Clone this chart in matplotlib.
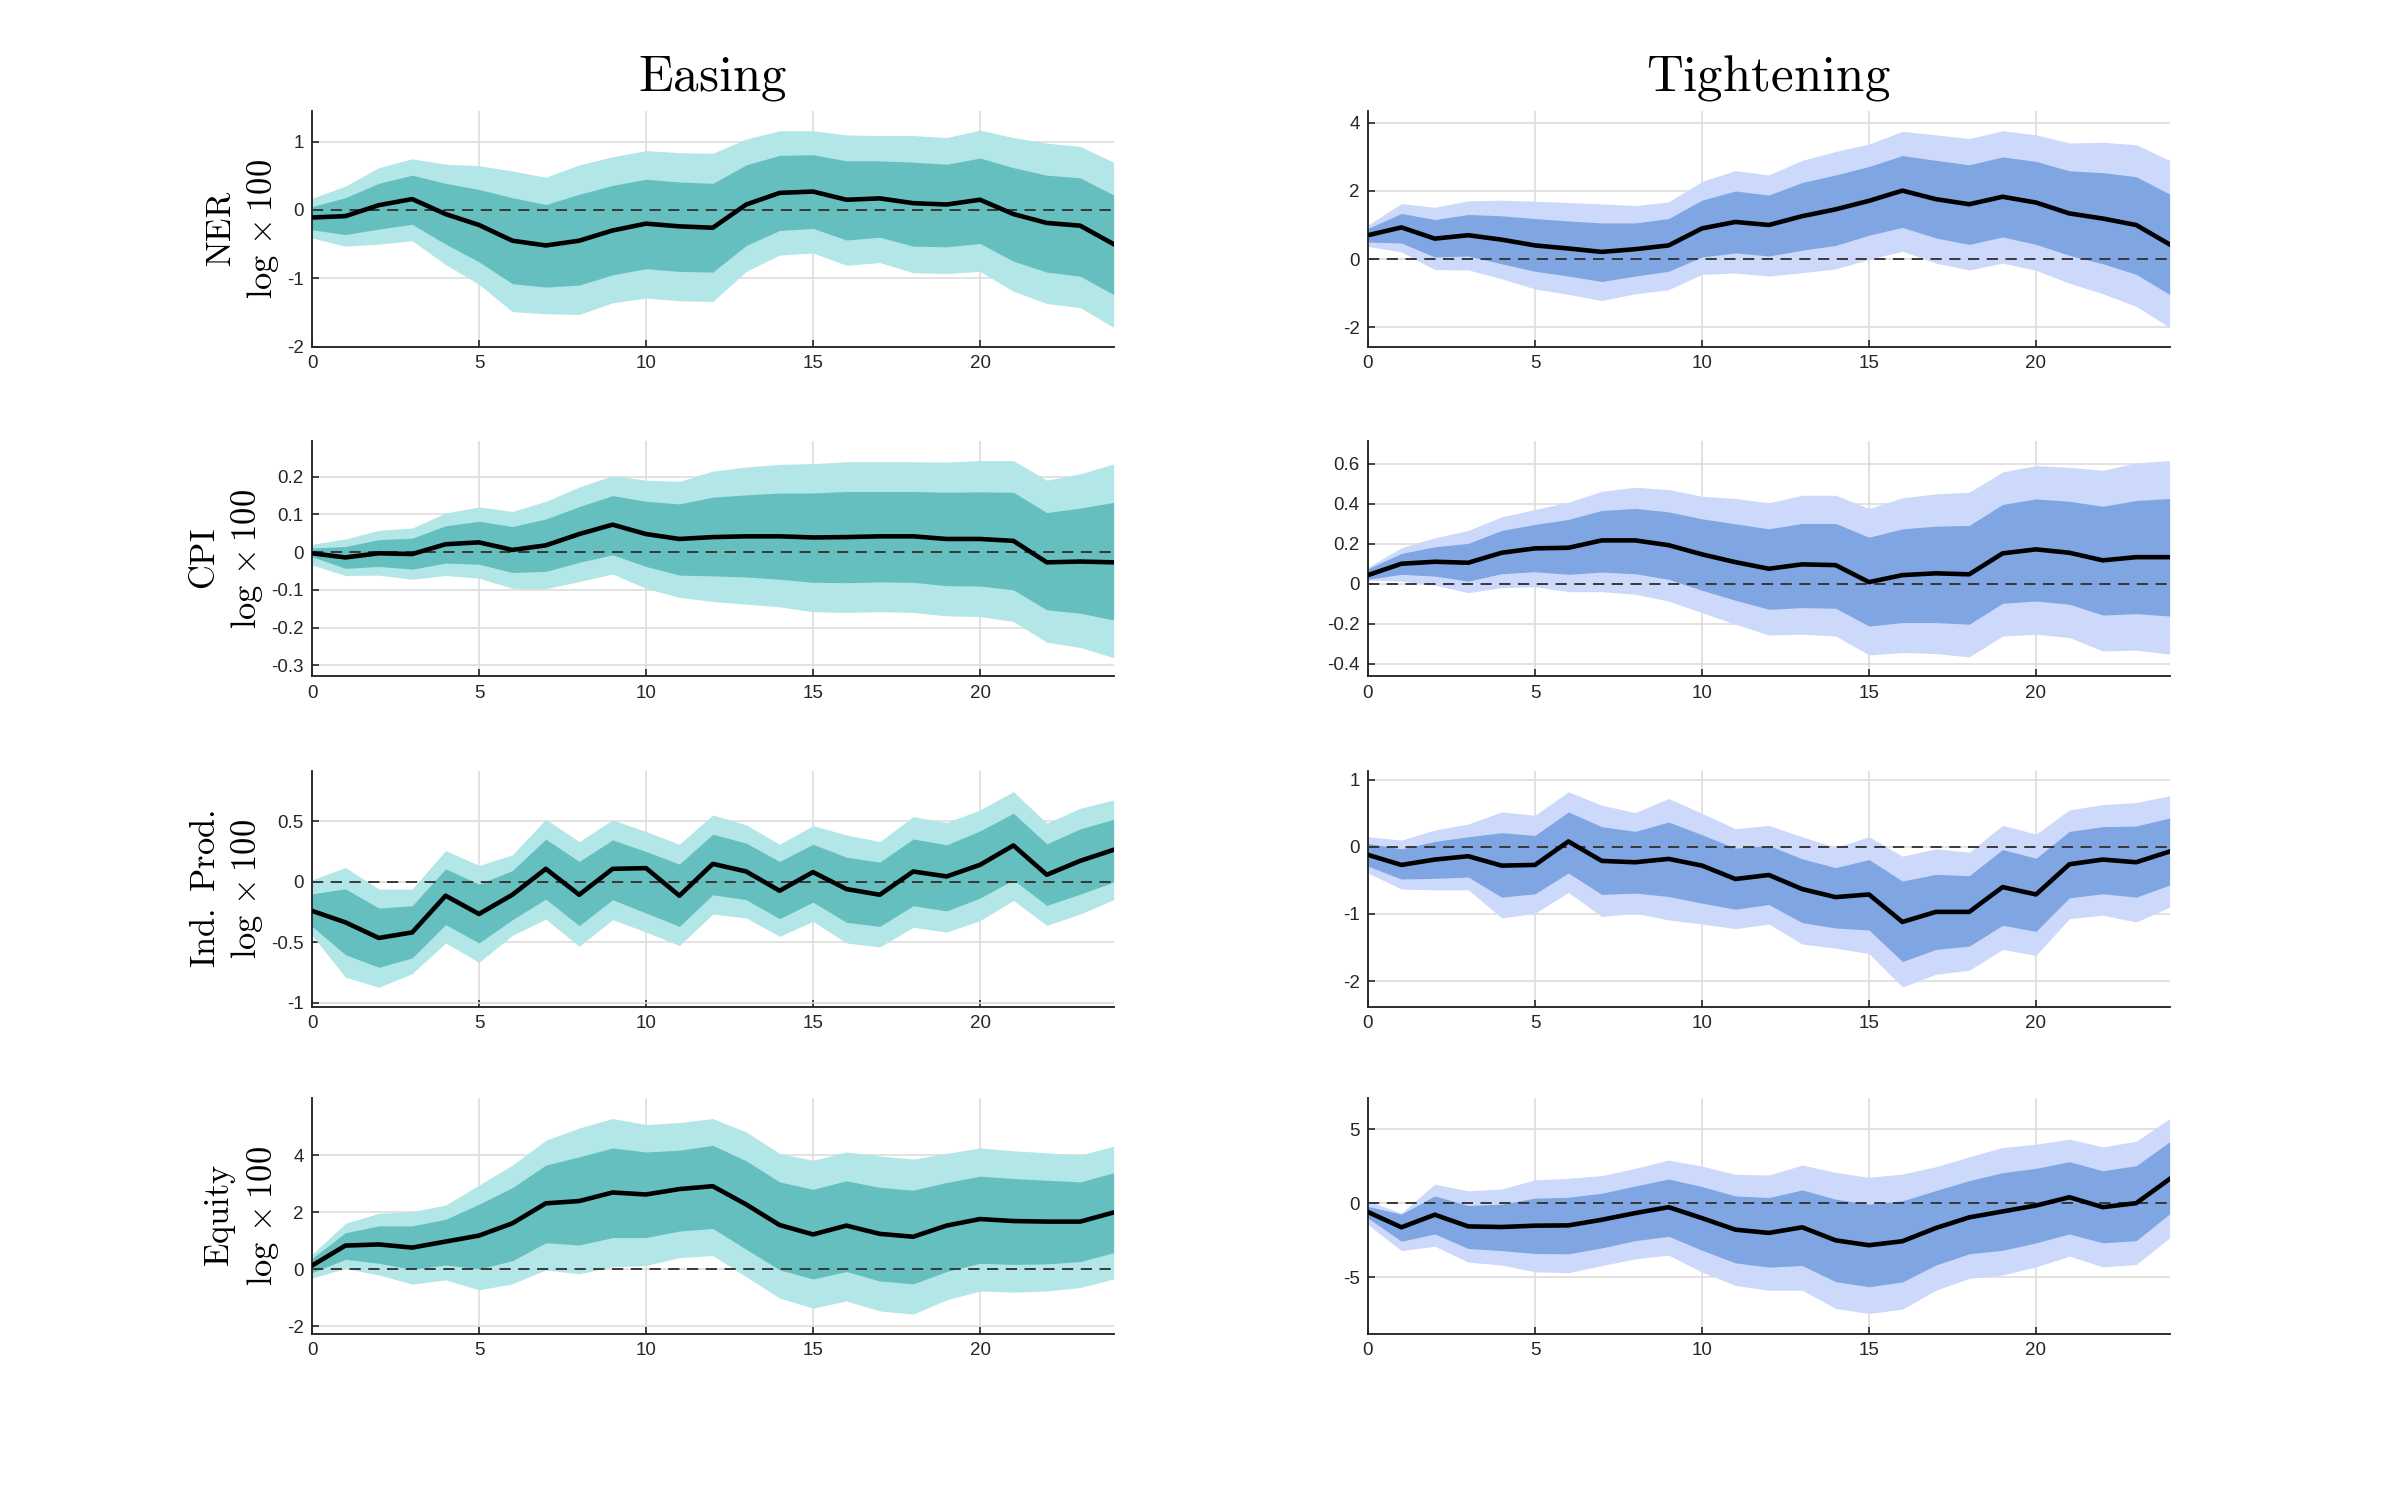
import numpy as np
import matplotlib
matplotlib.use('Agg')
import matplotlib.pyplot as plt

plt.rcParams['mathtext.fontset'] = 'cm'
plt.rcParams['font.family'] = ['Liberation Sans', 'DejaVu Sans']

horizon = np.arange(25)

# ---- Easing (teal) ----
ner_e_mid = [-0.11, -0.09, 0.07, 0.16, -0.06, -0.22, -0.45, -0.52, -0.45, -0.30, -0.20, -0.24, -0.26,
             0.08, 0.25, 0.27, 0.15, 0.17, 0.10, 0.08, 0.15, -0.06, -0.19, -0.23, -0.50]
ner_e_in_hi = [0.05, 0.18, 0.39, 0.51, 0.39, 0.30, 0.18, 0.08, 0.23, 0.36, 0.45, 0.41, 0.39,
               0.66, 0.80, 0.81, 0.72, 0.72, 0.70, 0.67, 0.76, 0.62, 0.51, 0.47, 0.22]
ner_e_in_lo = [-0.29, -0.36, -0.28, -0.21, -0.50, -0.76, -1.08, -1.13, -1.10, -0.95, -0.86, -0.90, -0.91,
               -0.52, -0.30, -0.27, -0.44, -0.40, -0.53, -0.54, -0.49, -0.75, -0.91, -0.97, -1.24]
ner_e_out_hi = [0.17, 0.35, 0.62, 0.75, 0.67, 0.65, 0.57, 0.48, 0.66, 0.78, 0.87, 0.84, 0.83,
                1.04, 1.16, 1.16, 1.10, 1.09, 1.09, 1.06, 1.17, 1.06, 0.98, 0.93, 0.70]
ner_e_out_lo = [-0.41, -0.53, -0.50, -0.45, -0.80, -1.09, -1.49, -1.52, -1.53, -1.36, -1.29, -1.33, -1.34,
                -0.90, -0.66, -0.63, -0.81, -0.77, -0.92, -0.93, -0.90, -1.19, -1.37, -1.43, -1.72]

cpi_e_mid = [-0.003, -0.014, -0.003, -0.005, 0.021, 0.026, 0.006, 0.018, 0.048, 0.073, 0.048, 0.035, 0.040,
             0.042, 0.042, 0.039, 0.040, 0.042, 0.042, 0.035, 0.035, 0.030, -0.027, -0.025, -0.027]
cpi_e_in_hi = [0.011, 0.015, 0.033, 0.037, 0.070, 0.082, 0.068, 0.088, 0.121, 0.150, 0.135, 0.128, 0.146,
               0.152, 0.157, 0.157, 0.161, 0.161, 0.161, 0.159, 0.160, 0.159, 0.105, 0.117, 0.132]
cpi_e_in_lo = [-0.012, -0.043, -0.038, -0.045, -0.029, -0.032, -0.054, -0.051, -0.027, -0.007, -0.038, -0.061, -0.063,
               -0.066, -0.072, -0.080, -0.081, -0.079, -0.080, -0.089, -0.090, -0.100, -0.153, -0.162, -0.180]
cpi_e_out_hi = [0.021, 0.035, 0.058, 0.064, 0.104, 0.120, 0.108, 0.135, 0.173, 0.203, 0.191, 0.188, 0.215,
                0.226, 0.233, 0.235, 0.240, 0.240, 0.240, 0.239, 0.243, 0.243, 0.191, 0.208, 0.234]
cpi_e_out_lo = [-0.034, -0.062, -0.061, -0.072, -0.062, -0.069, -0.096, -0.097, -0.078, -0.058, -0.096, -0.120, -0.131,
                -0.138, -0.145, -0.158, -0.160, -0.158, -0.160, -0.169, -0.171, -0.184, -0.239, -0.253, -0.280]

ip_e_mid = [-0.24, -0.335, -0.464, -0.418, -0.115, -0.266, -0.107, 0.107, -0.107, 0.107, 0.113, -0.115, 0.148,
            0.085, -0.074, 0.080, -0.060, -0.107, 0.085, 0.044, 0.140, 0.300, 0.058, 0.173, 0.264]
ip_e_in_hi = [-0.10, -0.058, -0.217, -0.198, 0.107, -0.019, 0.093, 0.352, 0.168, 0.346, 0.250, 0.146, 0.393,
              0.319, 0.168, 0.310, 0.203, 0.162, 0.354, 0.305, 0.420, 0.566, 0.313, 0.437, 0.516]
ip_e_in_lo = [-0.368, -0.602, -0.706, -0.629, -0.354, -0.505, -0.313, -0.143, -0.363, -0.148, -0.258, -0.368, -0.107,
              -0.148, -0.305, -0.168, -0.335, -0.368, -0.198, -0.240, -0.135, 0.016, -0.195, -0.102, -0.003]
ip_e_out_hi = [0.016, 0.118, -0.060, -0.060, 0.258, 0.135, 0.223, 0.516, 0.332, 0.511, 0.415, 0.310, 0.552,
               0.470, 0.310, 0.464, 0.387, 0.332, 0.538, 0.489, 0.593, 0.745, 0.484, 0.607, 0.676]
ip_e_out_lo = [-0.44, -0.788, -0.871, -0.758, -0.505, -0.665, -0.442, -0.308, -0.533, -0.313, -0.415, -0.527, -0.266,
               -0.299, -0.450, -0.327, -0.505, -0.538, -0.376, -0.415, -0.321, -0.154, -0.360, -0.266, -0.148]

eq_e_mid = [0.13, 0.83, 0.87, 0.76, 0.97, 1.18, 1.61, 2.31, 2.39, 2.69, 2.62, 2.81, 2.91,
            2.27, 1.55, 1.22, 1.53, 1.24, 1.14, 1.53, 1.76, 1.69, 1.67, 1.67, 1.99]
eq_e_in_hi = [0.38, 1.28, 1.52, 1.52, 1.75, 2.28, 2.86, 3.65, 3.94, 4.25, 4.11, 4.17, 4.34,
              3.80, 3.06, 2.80, 3.10, 2.87, 2.77, 3.04, 3.26, 3.18, 3.12, 3.06, 3.38]
eq_e_in_lo = [-0.12, 0.35, 0.21, 0.00, 0.15, 0.01, 0.30, 0.93, 0.85, 1.11, 1.11, 1.34, 1.43,
              0.70, -0.02, -0.34, -0.08, -0.41, -0.51, -0.08, 0.21, 0.17, 0.19, 0.27, 0.58]
eq_e_out_hi = [0.52, 1.61, 1.96, 2.02, 2.25, 2.95, 3.65, 4.52, 4.95, 5.28, 5.07, 5.14, 5.28,
               4.81, 4.06, 3.82, 4.11, 3.97, 3.86, 4.06, 4.25, 4.15, 4.08, 4.00, 4.31]
eq_e_out_lo = [-0.31, 0.03, -0.20, -0.52, -0.37, -0.72, -0.51, -0.02, -0.16, 0.09, 0.13, 0.41, 0.48,
               -0.26, -1.01, -1.36, -1.11, -1.46, -1.57, -1.07, -0.76, -0.80, -0.76, -0.64, -0.34]

# ---- Tightening (blue) ----
ner_t_mid = [0.70, 0.93, 0.60, 0.70, 0.57, 0.40, 0.31, 0.21, 0.29, 0.40, 0.90, 1.09, 1.00,
             1.26, 1.46, 1.71, 2.01, 1.76, 1.61, 1.83, 1.66, 1.34, 1.19, 1.00, 0.43]
ner_t_in_hi = [0.90, 1.34, 1.16, 1.31, 1.27, 1.19, 1.12, 1.06, 1.06, 1.19, 1.73, 2.00, 1.88,
               2.25, 2.47, 2.72, 3.04, 2.90, 2.77, 3.00, 2.87, 2.59, 2.54, 2.42, 1.91]
ner_t_in_lo = [0.50, 0.47, 0.06, 0.09, -0.14, -0.36, -0.50, -0.66, -0.50, -0.36, 0.06, 0.18, 0.09,
               0.26, 0.40, 0.70, 0.93, 0.62, 0.43, 0.65, 0.43, 0.11, -0.14, -0.45, -1.04]
ner_t_out_hi = [1.00, 1.63, 1.52, 1.71, 1.73, 1.70, 1.66, 1.62, 1.57, 1.68, 2.28, 2.60, 2.47,
                2.90, 3.16, 3.38, 3.75, 3.65, 3.54, 3.77, 3.65, 3.41, 3.43, 3.36, 2.90]
ner_t_out_lo = [0.37, 0.21, -0.31, -0.32, -0.58, -0.88, -1.04, -1.22, -1.02, -0.90, -0.45, -0.41, -0.50,
                -0.40, -0.29, -0.01, 0.23, -0.12, -0.32, -0.12, -0.33, -0.71, -1.02, -1.39, -2.01]

cpi_t_mid = [0.043, 0.100, 0.110, 0.105, 0.155, 0.177, 0.180, 0.217, 0.217, 0.193, 0.147, 0.108, 0.075,
             0.097, 0.093, 0.008, 0.043, 0.052, 0.047, 0.152, 0.172, 0.155, 0.117, 0.133, 0.133]
cpi_t_in_hi = [0.075, 0.152, 0.185, 0.202, 0.267, 0.297, 0.322, 0.367, 0.377, 0.360, 0.325, 0.300, 0.275,
               0.302, 0.302, 0.233, 0.275, 0.288, 0.292, 0.397, 0.425, 0.413, 0.388, 0.417, 0.427]
cpi_t_in_lo = [0.022, 0.047, 0.038, 0.013, 0.050, 0.060, 0.047, 0.058, 0.050, 0.022, -0.033, -0.083, -0.128,
               -0.120, -0.123, -0.212, -0.195, -0.195, -0.203, -0.098, -0.087, -0.103, -0.157, -0.150, -0.162]
cpi_t_out_hi = [0.083, 0.180, 0.230, 0.267, 0.335, 0.372, 0.408, 0.463, 0.483, 0.472, 0.438, 0.427, 0.405,
                0.443, 0.443, 0.377, 0.430, 0.450, 0.458, 0.560, 0.592, 0.583, 0.568, 0.605, 0.617]
cpi_t_out_lo = [0.018, 0.013, -0.007, -0.045, -0.020, -0.015, -0.040, -0.040, -0.053, -0.087, -0.145, -0.203, -0.257,
                -0.253, -0.262, -0.357, -0.345, -0.350, -0.367, -0.262, -0.253, -0.270, -0.337, -0.333, -0.353]

ip_t_mid = [-0.12, -0.27, -0.19, -0.14, -0.28, -0.27, 0.08, -0.21, -0.23, -0.18, -0.28, -0.48, -0.42,
            -0.63, -0.75, -0.71, -1.12, -0.97, -0.97, -0.60, -0.71, -0.26, -0.19, -0.23, -0.07]
ip_t_in_hi = [0.05, -0.03, 0.08, 0.15, 0.21, 0.17, 0.52, 0.30, 0.23, 0.37, 0.18, -0.02, 0.02,
              -0.18, -0.31, -0.19, -0.51, -0.41, -0.43, -0.04, -0.17, 0.23, 0.30, 0.31, 0.43]
ip_t_in_lo = [-0.29, -0.48, -0.47, -0.45, -0.75, -0.70, -0.39, -0.71, -0.69, -0.74, -0.84, -0.93, -0.86,
              -1.13, -1.21, -1.24, -1.71, -1.53, -1.48, -1.17, -1.26, -0.76, -0.70, -0.75, -0.57]
ip_t_out_hi = [0.15, 0.10, 0.25, 0.34, 0.52, 0.47, 0.82, 0.62, 0.51, 0.72, 0.50, 0.27, 0.32,
               0.15, -0.01, 0.15, -0.14, -0.03, -0.08, 0.32, 0.19, 0.55, 0.63, 0.66, 0.76]
ip_t_out_lo = [-0.39, -0.63, -0.64, -0.64, -1.06, -0.99, -0.68, -1.04, -0.99, -1.09, -1.15, -1.22, -1.15,
               -1.45, -1.51, -1.59, -2.09, -1.90, -1.84, -1.53, -1.62, -1.07, -1.02, -1.12, -0.90]

eq_t_mid = [-0.60, -1.63, -0.78, -1.57, -1.61, -1.52, -1.50, -1.12, -0.67, -0.27, -1.01, -1.79, -2.01,
            -1.63, -2.51, -2.84, -2.57, -1.68, -0.96, -0.56, -0.16, 0.40, -0.27, 0.00, 1.63]
eq_t_in_hi = [-0.22, -0.74, 0.49, -0.16, -0.07, 0.34, 0.40, 0.67, 1.16, 1.63, 1.12, 0.49, 0.38,
              0.89, 0.27, -0.07, 0.16, 0.85, 1.52, 2.06, 2.35, 2.80, 2.19, 2.53, 4.14]
eq_t_in_lo = [-1.01, -2.57, -2.08, -3.06, -3.20, -3.40, -3.42, -3.02, -2.53, -2.24, -3.18, -4.03, -4.32,
              -4.21, -5.30, -5.64, -5.32, -4.18, -3.42, -3.18, -2.68, -2.08, -2.68, -2.53, -0.72]
eq_t_out_hi = [0.16, -0.67, 1.28, 0.83, 0.96, 1.57, 1.68, 1.86, 2.35, 2.91, 2.50, 1.95, 1.90,
               2.57, 2.08, 1.74, 1.97, 2.46, 3.13, 3.76, 3.98, 4.32, 3.80, 4.18, 5.70]
eq_t_out_lo = [-1.45, -3.20, -2.91, -3.98, -4.18, -4.63, -4.70, -4.21, -3.76, -3.51, -4.65, -5.55, -5.88,
               -5.88, -7.11, -7.45, -7.16, -5.88, -5.08, -4.85, -4.30, -3.58, -4.30, -4.14, -2.35]

var_names = ['NER', 'CPI', 'Ind.\\ Prod.', 'Equity']

easing = [
    (ner_e_mid, ner_e_in_lo, ner_e_in_hi, ner_e_out_lo, ner_e_out_hi),
    (cpi_e_mid, cpi_e_in_lo, cpi_e_in_hi, cpi_e_out_lo, cpi_e_out_hi),
    (ip_e_mid, ip_e_in_lo, ip_e_in_hi, ip_e_out_lo, ip_e_out_hi),
    (eq_e_mid, eq_e_in_lo, eq_e_in_hi, eq_e_out_lo, eq_e_out_hi),
]
tightening = [
    (ner_t_mid, ner_t_in_lo, ner_t_in_hi, ner_t_out_lo, ner_t_out_hi),
    (cpi_t_mid, cpi_t_in_lo, cpi_t_in_hi, cpi_t_out_lo, cpi_t_out_hi),
    (ip_t_mid, ip_t_in_lo, ip_t_in_hi, ip_t_out_lo, ip_t_out_hi),
    (eq_t_mid, eq_t_in_lo, eq_t_in_hi, eq_t_out_lo, eq_t_out_hi),
]

ylims_e = [(-2.0, 1.45), (-0.33, 0.295), (-1.03, 0.915), (-2.25, 6.0)]
ylims_t = [(-2.57, 4.35), (-0.465, 0.715), (-2.38, 1.13), (-8.8, 7.1)]
yticks_e = [[-2, -1, 0, 1], [-0.3, -0.2, -0.1, 0, 0.1, 0.2], [-1, -0.5, 0, 0.5], [-2, 0, 2, 4]]
yticks_t = [[-2, 0, 2, 4], [-0.4, -0.2, 0, 0.2, 0.4, 0.6], [-2, -1, 0, 1], [-5, 0, 5]]

teal_dark, teal_light = '#66BFBF', '#B3E6E6'
blue_dark, blue_light = '#7FA6E3', '#CCD9FA'

fig = plt.figure(figsize=(16, 10), dpi=150)

lefts = [0.130, 0.570]
bottoms = [0.769, 0.549, 0.329, 0.111]
w, h = 0.334, 0.157


def draw_panel(ax, series, dark, light, ylim, yticks):
    mid, in_lo, in_hi, out_lo, out_hi = series
    ax.fill_between(horizon, out_lo, out_hi, color=light, linewidth=0, zorder=1)
    ax.fill_between(horizon, in_lo, in_hi, color=dark, linewidth=0, zorder=2)
    ax.axhline(0, color='#333333', linestyle=(0, (6, 4)), linewidth=0.9, zorder=3)
    ax.plot(horizon, mid, color='black', linewidth=2.2, zorder=4)
    ax.set_xlim(0, 24)
    ax.set_ylim(*ylim)
    ax.set_xticks([0, 5, 10, 15, 20])
    ax.set_yticks(yticks)
    ax.set_yticklabels(['%g' % v for v in yticks])
    ax.grid(True, color='#dddddd', linewidth=0.8, zorder=0)
    ax.set_axisbelow(True)
    for s in ['top', 'right']:
        ax.spines[s].set_visible(False)
    for s in ['left', 'bottom']:
        ax.spines[s].set_linewidth(0.9)
        ax.spines[s].set_color('#262626')
    ax.tick_params(direction='in', length=3.5, width=0.8, labelsize=9,
                   colors='#262626', pad=4)


for i in range(4):
    ax_e = fig.add_axes([lefts[0], bottoms[i], w, h])
    draw_panel(ax_e, easing[i], teal_dark, teal_light, ylims_e[i], yticks_e[i])
    ax_e.set_ylabel(r'$\mathrm{%s}$' % var_names[i] + '\n' + r'$\log \times 100$',
                    fontsize=16.5, labelpad=3, linespacing=1.25)

    ax_t = fig.add_axes([lefts[1], bottoms[i], w, h])
    draw_panel(ax_t, tightening[i], blue_dark, blue_light, ylims_t[i], yticks_t[i])

    if i == 0:
        ax_e.set_title(r'$\mathrm{Easing}$', fontsize=24.5, pad=10)
        ax_t.set_title(r'$\mathrm{Tightening}$', fontsize=24.5, pad=10)

plt.savefig('out.png', dpi=150)
